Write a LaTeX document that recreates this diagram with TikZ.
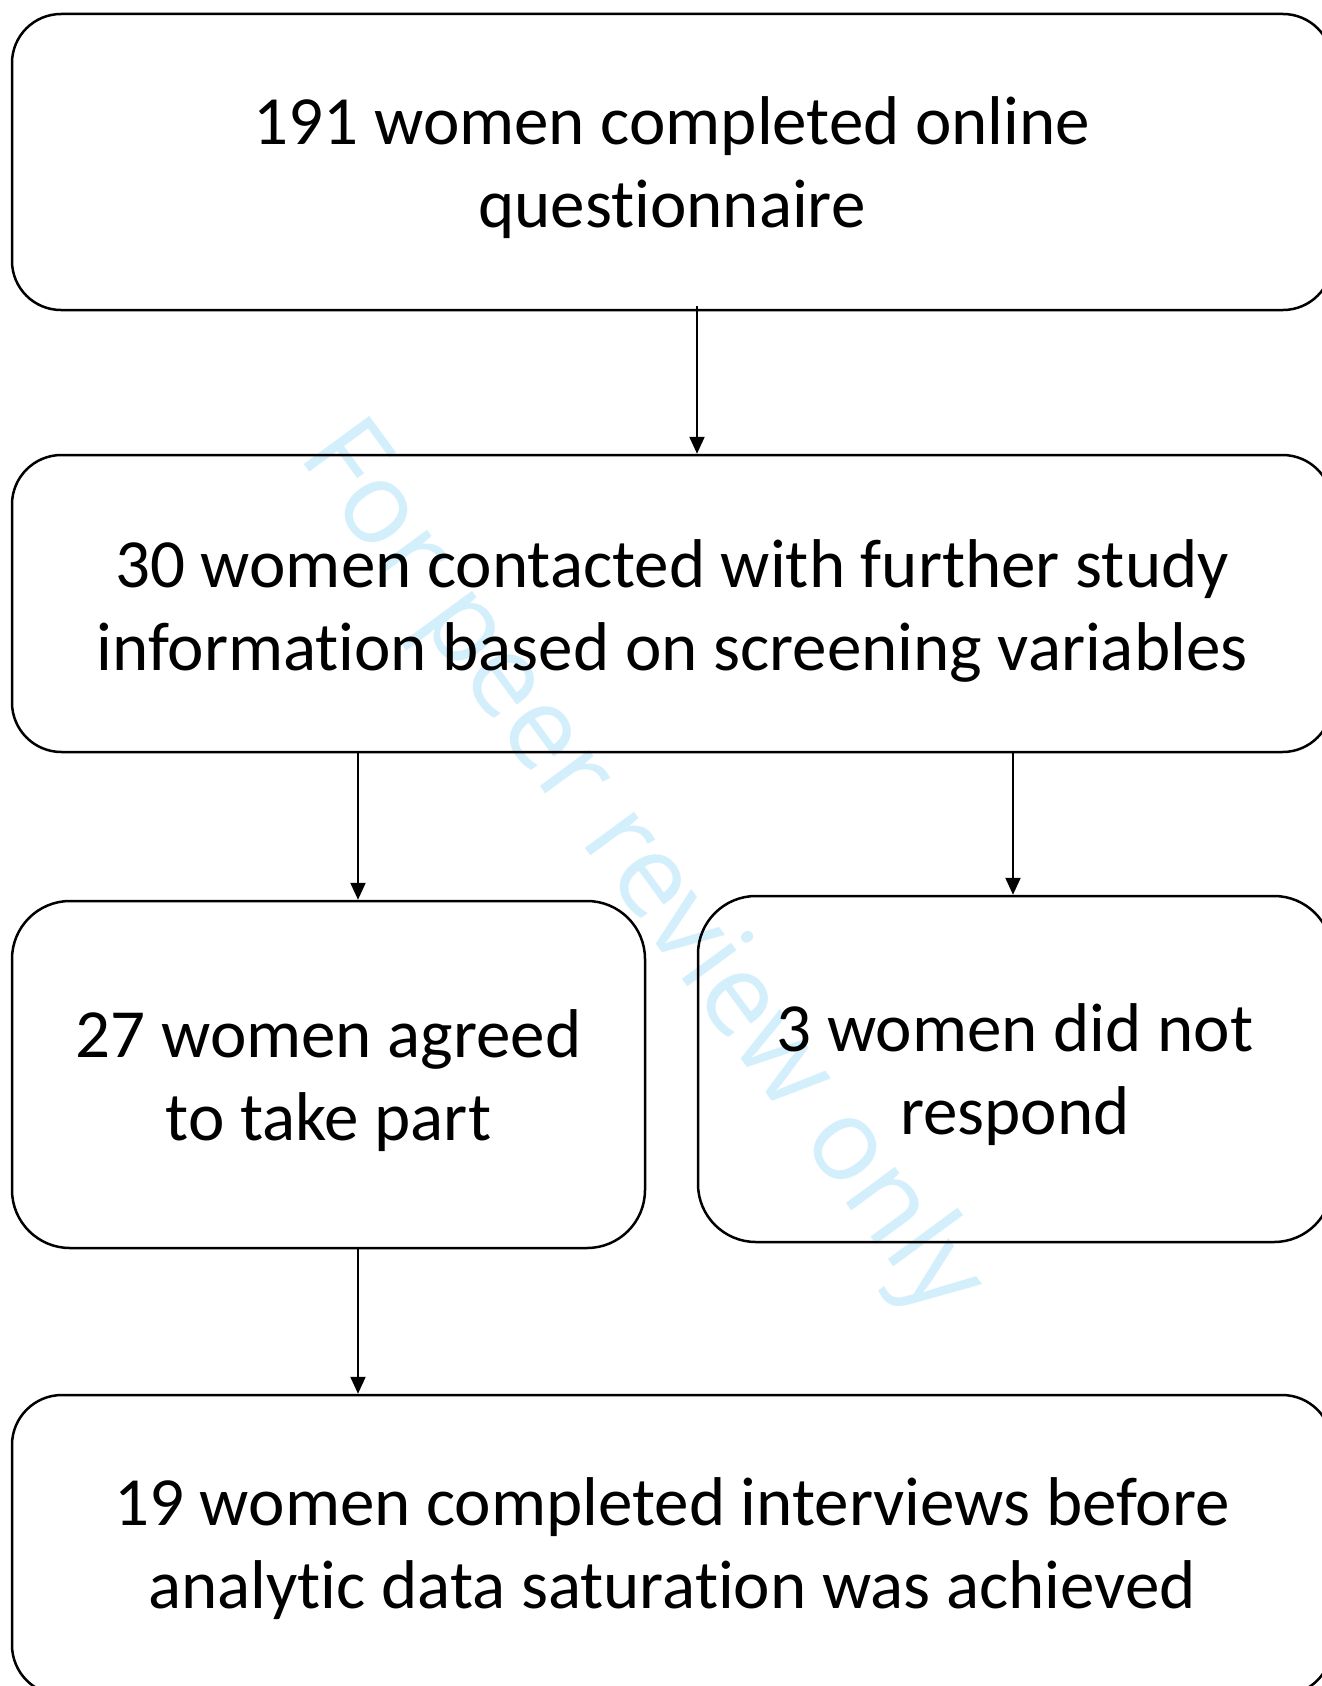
\documentclass[tikz,border=0pt]{standalone}
\usepackage{fontspec}
\setmainfont{Carlito}[Ligatures=NoCommon]
\newfontfamily\wmfont{Open Sans}
\usetikzlibrary{arrows.meta}
\definecolor{wmblue}{RGB}{212,239,252}
\begin{document}
\begin{tikzpicture}[x=1pt,y=-1pt,
  flowbox/.style={draw=black, line width=2.5pt, rounded corners=#1, inner sep=0pt},
  txt/.style={align=center, inner sep=0pt, font=\fontsize{69}{83}\selectfont},
  arr/.style={-{Triangle[length=17pt,width=15pt]}, line width=2.2pt}]
\useasboundingbox (0,0) rectangle (1322,1686);
\clip (0,0) rectangle (1322,1686);
\fill[white] (0,0) rectangle (1322,1686);
% watermark
\node[font=\wmfont\fontsize{114}{130}\selectfont, text=wmblue, rotate=-53.7, anchor=base west, inner sep=0pt] (wm) at (297,455) {For peer review only};
% boxes
\node[flowbox=49pt, minimum width=1320pt, minimum height=296pt] (b1) at (672,162) {};
\node[flowbox=49.5pt, minimum width=1320pt, minimum height=297pt] (b2) at (672,603.5) {};
\node[flowbox=58pt, minimum width=633pt, minimum height=347pt] (b3) at (328.5,1074.5) {};
\node[flowbox=58pt, minimum width=634pt, minimum height=346pt] (b4) at (1015,1069) {};
\node[flowbox=50pt, minimum width=1320pt, minimum height=300pt] (b5) at (672,1545) {};
% texts
\node[txt] (t1) at ([yshift=-6pt]b1.center) {191 women completed online\\questionnaire};
\node[txt] (t2) at ([yshift=-7pt]b2.center) {30 women contacted with further study\\information based on screening variables};
\node[txt] (t3) at ([yshift=-6pt]b3.center) {27 women agreed\\to take part};
\node[txt] (t4) at ([yshift=-6pt]b4.center) {3 women did not\\respond};
\node[txt] (t5) at ([yshift=-4pt]b5.center) {19 women completed interviews before\\analytic data saturation was achieved};
% connectors
\coordinate (a1) at ([xshift=25pt]b2.north);
\coordinate (a2) at ([xshift=29.5pt]b3.north);
\coordinate (a3) at ([xshift=-2pt]b4.north);
\coordinate (a4) at ([xshift=29.5pt]b3.south);
\draw[arr] ([yshift=5pt]a1 |- b1.south) -- (a1);
\draw[arr] (a2 |- b2.south) -- (a2);
\draw[arr] (a3 |- b2.south) -- (a3);
\draw[arr] ([yshift=2pt]a4) -- (a4 |- b5.north);
\end{tikzpicture}
\end{document}
